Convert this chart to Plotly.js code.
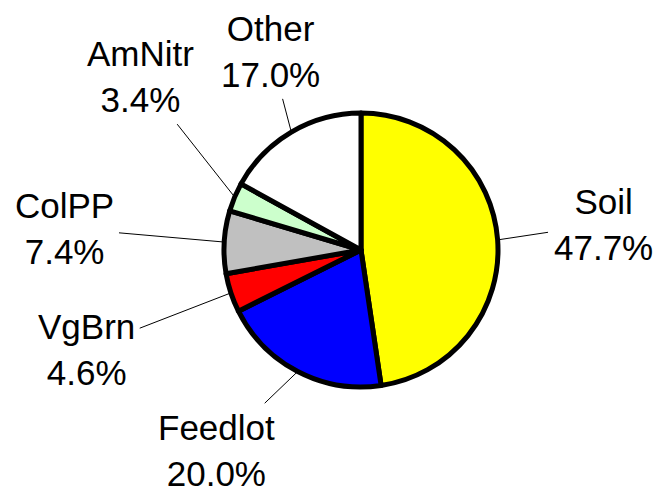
<!DOCTYPE html>
<html>
<head>
<meta charset="utf-8">
<script src="https://cdn.plot.ly/plotly-3.0.1.min.js"></script>
<style>html,body{margin:0;padding:0;background:#fff;}#chart{width:657px;height:491px;}</style>
</head>
<body>
<div id="chart"></div>
<script>
// Data
const labels = ['Soil', 'Feedlot', 'VgBrn', 'ColPP', 'AmNitr', 'Other'];
const values = [47.7, 20.0, 4.6, 7.4, 3.4, 17.0];
const sliceColors = ['#FFFF00', '#0000FF', '#FF0000', '#C0C0C0', '#CCFFCC', '#FFFFFF'];
// Layout: label block centres in pixels
const labelCentres = [[603, 224], [216, 450], [86, 349], [64, 228], [140, 77], [270, 51]];

const W = 657, H = 491;
const cx = 361, cy = 250, R = 137;

const total = values.reduce((a, b) => a + b, 0);
let cum = 0;
const annotations = labels.map((lab, i) => {
  const mid = (cum + values[i] / 2) / total;
  cum += values[i];
  const ang = mid * 2 * Math.PI;
  const px = cx + R * Math.sin(ang);
  const py = cy - R * Math.cos(ang);
  return {
    x: px / W, y: 1 - py / H, xref: 'paper', yref: 'paper',
    ax: labelCentres[i][0] - px, ay: labelCentres[i][1] - py,
    axref: 'pixel', ayref: 'pixel',
    text: lab + '<br>' + values[i].toFixed(1) + '%',
    showarrow: true, arrowhead: 0, arrowwidth: 1, arrowcolor: '#000',
    standoff: 0, startstandoff: 4,
    font: {family: 'Liberation Sans, Arial, sans-serif', size: 35, color: '#000'},
    align: 'center'
  };
});

const trace = {
  type: 'pie',
  labels: labels,
  values: values,
  sort: false,
  direction: 'clockwise',
  rotation: 0,
  textinfo: 'none',
  hoverinfo: 'skip',
  marker: {colors: sliceColors, line: {color: '#000', width: 5}},
  domain: {x: [(cx - R) / W, (cx + R) / W], y: [1 - (cy + R) / H, 1 - (cy - R) / H]}
};

Plotly.newPlot('chart', [trace], {
  width: W, height: H,
  margin: {l: 0, r: 0, t: 0, b: 0},
  showlegend: false,
  paper_bgcolor: '#fff',
  annotations: annotations,
  hovermode: false
}, {staticPlot: true});
</script>
</body>
</html>
